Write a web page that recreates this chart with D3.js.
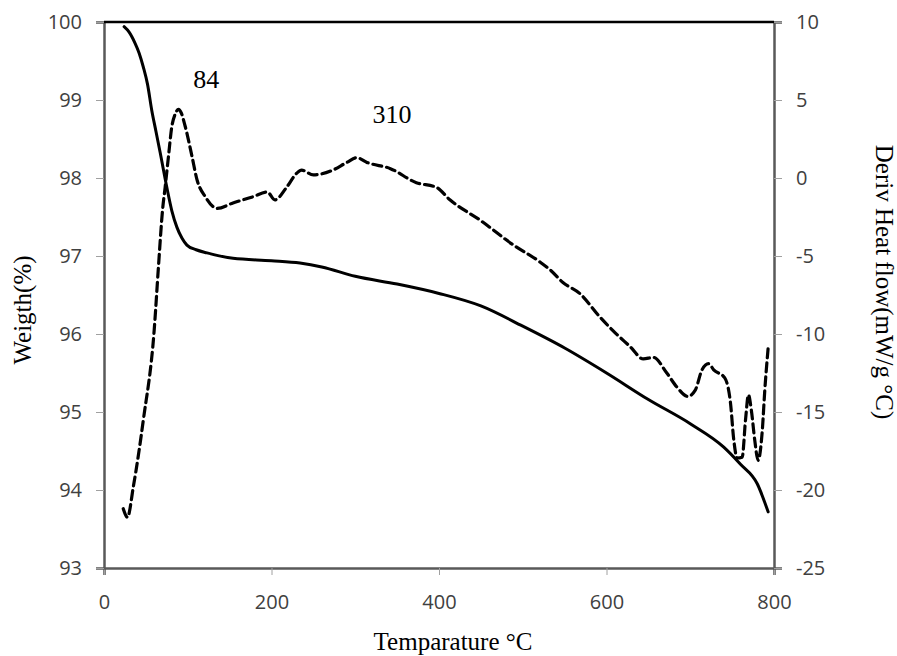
<!DOCTYPE html>
<html>
<head>
<meta charset="utf-8">
<script src="https://cdn.jsdelivr.net/npm/d3@7"></script>
<style>
  html, body { margin: 0; padding: 0; background: #fff; }
  svg { display: block; }
  .tick text { font-family: "Open Sans", Lato, sans-serif; font-size: 20px; fill: #404040; }
</style>
</head>
<body>
<svg id="chart" width="897" height="656"></svg>
<script>
// Thermogravimetric curve: temperature (°C) and residual weight (%)
const weightTemp = [24, 30, 37, 42, 47, 52, 57, 62, 67, 75, 81, 87, 93, 99, 110, 123, 154, 200, 234, 260, 300, 350, 400, 450, 500, 550, 600, 650, 700, 740, 760, 780, 793];
const weightPct  = [99.94, 99.87, 99.73, 99.6, 99.42, 99.2, 98.87, 98.6, 98.33, 97.88, 97.58, 97.37, 97.23, 97.14, 97.08, 97.04, 96.97, 96.94, 96.91, 96.86, 96.74, 96.64, 96.52, 96.36, 96.1, 95.82, 95.5, 95.16, 94.85, 94.55, 94.33, 94.08, 93.72];

// Derivative heat flow curve: temperature (°C) and mW/g °C
const heatTemp = [23, 28, 35, 47, 60, 65, 70, 73, 77, 81, 85, 89, 92, 97, 105, 111, 121, 135, 154, 178, 195, 204, 218, 230, 236, 250, 273, 290, 302, 314, 342, 373, 397, 413, 449, 489, 521, 533, 548, 568, 592, 608, 628, 644, 656, 672, 684, 697, 706, 714, 722, 728, 741, 748, 752, 756, 762, 766, 769.5, 773, 777, 781, 786, 789, 793];
const heatFlow = [-21.2, -21.75, -19.8, -15.5, -9.7, -5.7, -2.0, -0.6, 1.4, 3.3, 4.1, 4.4, 4.2, 3.3, 1.4, -0.1, -1.2, -1.95, -1.6, -1.2, -0.9, -1.4, -0.6, 0.3, 0.5, 0.2, 0.5, 1.0, 1.3, 1.0, 0.6, -0.3, -0.6, -1.4, -2.7, -4.3, -5.4, -5.9, -6.7, -7.4, -8.9, -9.8, -10.8, -11.6, -11.5, -12.5, -13.4, -14.0, -13.6, -12.3, -11.9, -12.3, -12.8, -14.4, -16.8, -17.95, -17.9, -15.5, -13.9, -14.9, -16.8, -18.1, -16.2, -13.6, -10.9];

// Axis tick values
const xTicks = [0, 200, 400, 600, 800];
const weightTicks = [93, 94, 95, 96, 97, 98, 99, 100];
const heatTicks = [-25, -20, -15, -10, -5, 0, 5, 10];

// Peak annotations, anchored in data units (temperature, heat flow)
const peakText = ["84", "310"];
const peakLabelT = [122, 344];
const peakLabelV = [5.8, 3.5];

const svg = d3.select("#chart");
const mLeft = 104, mRight = 774, mTop = 22, mBottom = 568;

const x = d3.scaleLinear().domain([0, 800]).range([mLeft, mRight]);
const yW = d3.scaleLinear().domain([93, 100]).range([mBottom, mTop]);
const yH = d3.scaleLinear().domain([-25, 10]).range([mBottom, mTop]);

const axisColor = "#595959";
const plain = d => String(d);   // hyphen-minus, as in the printed figure

// Axes
const gx = svg.append("g").attr("transform", `translate(0,${mBottom})`)
  .call(d3.axisBottom(x).tickValues(xTicks).tickSize(7).tickPadding(20).tickFormat(plain));
const gl = svg.append("g").attr("transform", `translate(${mLeft},0)`)
  .call(d3.axisLeft(yW).tickValues(weightTicks).tickSize(8).tickPadding(14).tickFormat(plain));
const gr = svg.append("g").attr("transform", `translate(${mRight},0)`)
  .call(d3.axisRight(yH).tickValues(heatTicks).tickSize(8).tickPadding(14).tickFormat(plain));

[gx, gl, gr].forEach(g => {
  g.select(".domain").attr("stroke", axisColor).attr("stroke-width", 2.5);
  g.selectAll(".tick line").attr("stroke", "#a0a0a0").attr("stroke-width", 1);
});

// Top border of the plot frame
svg.append("line")
  .attr("x1", mLeft).attr("x2", mRight).attr("y1", mTop).attr("y2", mTop)
  .attr("stroke", "#000").attr("stroke-width", 2.5);

// Weight curve (solid)
const weightLine = d3.line()
  .x((d, i) => x(weightTemp[i]))
  .y(d => yW(d))
  .curve(d3.curveMonotoneX);
svg.append("path")
  .attr("d", weightLine(weightPct))
  .attr("fill", "none").attr("stroke", "#000").attr("stroke-width", 3)
  .attr("stroke-linecap", "round");

// Derivative heat flow curve (dashed)
const heatLine = d3.line()
  .x((d, i) => x(heatTemp[i]))
  .y(d => yH(d))
  .curve(d3.curveMonotoneX);
svg.append("path")
  .attr("d", heatLine(heatFlow))
  .attr("fill", "none").attr("stroke", "#000").attr("stroke-width", 3.2)
  .attr("stroke-dasharray", "9,5").attr("stroke-linecap", "round");

const serif = "'Liberation Serif', 'Times New Roman', serif";

// Peak labels
svg.selectAll("text.peak").data(peakText).enter().append("text")
  .attr("class", "peak")
  .attr("x", (d, i) => x(peakLabelT[i]))
  .attr("y", (d, i) => yH(peakLabelV[i]))
  .attr("text-anchor", "middle")
  .style("font-family", serif)
  .style("font-size", "26px")
  .text(d => d);

// Axis titles
svg.append("text")
  .attr("x", 453).attr("y", 650)
  .attr("text-anchor", "middle")
  .style("font-family", serif).style("font-size", "25px")
  .text("Temparature °C");

svg.append("text")
  .attr("transform", "translate(31,310) rotate(-90)")
  .attr("text-anchor", "middle")
  .style("font-family", serif).style("font-size", "25px")
  .text("Weigth(%)");

svg.append("text")
  .attr("transform", "translate(876,282) rotate(90)")
  .attr("text-anchor", "middle")
  .style("font-family", serif).style("font-size", "25px")
  .text("Deriv Heat flow(mW/g °C)");
</script>
</body>
</html>
